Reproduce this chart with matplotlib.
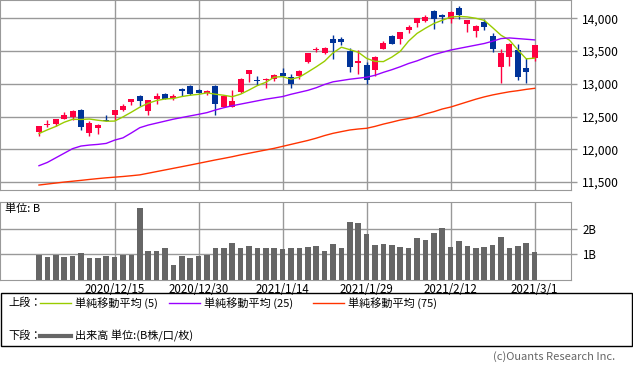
#!/usr/bin/env python3
"""Candlestick chart with moving averages and volume panel"""
import matplotlib
matplotlib.use("Agg")
import matplotlib.pyplot as plt
from matplotlib.lines import Line2D
from matplotlib.patches import Rectangle

plt.rcParams['font.family'] = ['Noto Sans CJK JP', 'DejaVu Sans']

dates = [
    "2020/12/2", "2020/12/3", "2020/12/4", "2020/12/7", "2020/12/8",
    "2020/12/9", "2020/12/10", "2020/12/11", "2020/12/14", "2020/12/15",
    "2020/12/16", "2020/12/17", "2020/12/18", "2020/12/21", "2020/12/22",
    "2020/12/23", "2020/12/24", "2020/12/28", "2020/12/29", "2020/12/30",
    "2020/12/31", "2021/1/4", "2021/1/5", "2021/1/6", "2021/1/7",
    "2021/1/8", "2021/1/11", "2021/1/12", "2021/1/13", "2021/1/14",
    "2021/1/15", "2021/1/19", "2021/1/20", "2021/1/21", "2021/1/22",
    "2021/1/25", "2021/1/26", "2021/1/27", "2021/1/28", "2021/1/29",
    "2021/2/1", "2021/2/2", "2021/2/3", "2021/2/4", "2021/2/5",
    "2021/2/8", "2021/2/9", "2021/2/10", "2021/2/11", "2021/2/12",
    "2021/2/16", "2021/2/17", "2021/2/18", "2021/2/19", "2021/2/22",
    "2021/2/23", "2021/2/24", "2021/2/25", "2021/2/26", "2021/3/1",
]
tick_dates = ["2020/12/15", "2020/12/30", "2021/1/14",
              "2021/1/29", "2021/2/12", "2021/3/1"]

opens = [12265, 12372, 12390, 12465, 12500, 12600, 12245, 12330, 12445, 12525,
         12605, 12715, 12812, 12590, 12763, 12845, 12779, 12916, 12966, 12905,
         12858, 12966, 12650, 12650, 12868, 13150, 13050, 13062, 13073, 13172,
         13099, 13119, 13330, 13518, 13475, 13684, 13690, 13506, 13322, 13287,
         13211, 13531, 13730, 13679, 13821, 13933, 13963, 14111, 14055, 13985,
         14153, 13913, 13806, 13944, 13730, 13261, 13405, 13516, 13237, 13400]
highs = [12356, 12445, 12464, 12575, 12600, 12615, 12425, 12380, 12530, 12600,
         12690, 12770, 12830, 12753, 12860, 12860, 12845, 12935, 12985, 12920,
         12905, 12981, 12830, 12910, 13090, 13215, 13120, 13090, 13150, 13245,
         13150, 13212, 13475, 13555, 13560, 13740, 13720, 13542, 13516, 13338,
         13430, 13660, 13750, 13791, 13890, 14000, 14045, 14127, 14070, 14110,
         14188, 13974, 13900, 13985, 13771, 13531, 13628, 13608, 13389, 13592]
lows = [12200, 12342, 12350, 12460, 12440, 12295, 12200, 12240, 12425, 12450,
        12585, 12680, 12660, 12520, 12695, 12763, 12753, 12814, 12830, 12855,
        12825, 12530, 12640, 12640, 12865, 13033, 12975, 12935, 13050, 13110,
        12940, 13075, 13310, 13480, 13450, 13380, 13590, 13185, 13150, 12990,
        13115, 13531, 13600, 13610, 13775, 13870, 13950, 13837, 13925, 13930,
        13995, 13796, 13719, 13825, 13490, 13008, 13272, 13058, 13017, 13348]
closes = [12349, 12382, 12462, 12530, 12585, 12335, 12400, 12372, 12437, 12598,
          12665, 12768, 12742, 12750, 12814, 12765, 12812, 12897, 12845, 12866,
          12892, 12692, 12818, 12738, 13080, 13210, 13044, 13072, 13134, 13120,
          12995, 13195, 13470, 13530, 13542, 13630, 13632, 13261, 13348, 13058,
          13405, 13628, 13608, 13791, 13872, 14000, 14025, 13989, 14025, 14100,
          14051, 13974, 13882, 13872, 13531, 13466, 13608, 13108, 13180, 13592]

ma5 = [12241, 12297, 12349, 12413, 12458, 12456, 12462, 12444, 12429, 12431,
       12495, 12567, 12643, 12703, 12745, 12768, 12776, 12805, 12826, 12839,
       12862, 12841, 12825, 12803, 12842, 12905, 12973, 13023, 13101, 13110,
       13070, 13102, 13179, 13259, 13345, 13472, 13558, 13521, 13482, 13388,
       13342, 13339, 13407, 13495, 13652, 13769, 13848, 13920, 13970, 14018,
       14029, 14021, 14000, 13969, 13857, 13741, 13667, 13518, 13381, 13392]
ma25 = [11750, 11800, 11870, 11940, 12010, 12050, 12065, 12075, 12090, 12140,
        12175, 12250, 12330, 12370, 12400, 12430, 12460, 12485, 12510, 12534,
        12560, 12600, 12635, 12665, 12690, 12715, 12740, 12765, 12785, 12805,
        12840, 12870, 12900, 12940, 12990, 13030, 13050, 13070, 13085, 13100,
        13130, 13175, 13215, 13260, 13310, 13350, 13400, 13445, 13480, 13515,
        13540, 13565, 13590, 13615, 13650, 13690, 13700, 13690, 13680, 13670]
ma75 = [11455, 11470, 11485, 11500, 11513, 11526, 11540, 11553, 11565, 11575,
        11585, 11597, 11610, 11635, 11660, 11685, 11710, 11735, 11760, 11786,
        11812, 11838, 11862, 11887, 11915, 11940, 11965, 11990, 12015, 12045,
        12075, 12105, 12135, 12170, 12210, 12244, 12270, 12295, 12310, 12321,
        12350, 12385, 12415, 12447, 12470, 12500, 12540, 12574, 12615, 12645,
        12685, 12725, 12765, 12800, 12830, 12855, 12878, 12895, 12915, 12931]

volume = [0.99, 0.92, 0.99, 0.92, 0.96, 1.07, 0.88, 0.88, 0.96, 0.92,
          0.99, 0.99, 2.84, 1.12, 1.12, 1.24, 0.57, 0.96, 0.88, 0.96,
          0.99, 1.27, 1.24, 1.47, 1.27, 1.35, 1.24, 1.27, 1.27, 1.20,
          1.27, 1.24, 1.31, 1.35, 1.12, 1.43, 1.27, 2.29, 2.22, 1.82,
          1.39, 1.43, 1.39, 1.31, 1.27, 1.63, 1.55, 1.86, 2.02, 1.31,
          1.51, 1.35, 1.24, 1.31, 1.39, 1.67, 1.24, 1.35, 1.47, 1.08]

W, H = 633, 373
UP = '#ff0040'
DOWN = '#003399'
GRID = '#999999'


def fx(px):
    return px / W


def fy(py):
    return 1 - py / H


fig = plt.figure(figsize=(6.33, 3.73), dpi=100)
idx = list(range(len(dates)))
tick_pos = [dates.index(d) for d in tick_dates]

# upper panel: candles + moving averages
ax = fig.add_axes([0, fy(190), fx(571), 190 / H])
colors = [UP if c >= o else DOWN for o, c in zip(opens, closes)]
ax.vlines(idx, lows, highs, colors=colors, linewidth=1, zorder=3)
bottoms = [min(o, c) for o, c in zip(opens, closes)]
heights = [max(abs(c - o), 10) for o, c in zip(opens, closes)]
ax.bar(idx, heights, bottom=bottoms, width=0.7, color=colors, zorder=4)
ax.plot(idx, ma5, color='#99cc00', lw=1, zorder=5)
ax.plot(idx, ma25, color='#9900ff', lw=1, zorder=5)
ax.plot(idx, ma75, color='#ff3300', lw=1, zorder=5)

ax.set_xlim(-4.64, 63.33)
ax.set_ylim(11379, 14279)
ax.set_yticks(range(11500, 14001, 500))
ax.set_yticklabels([f"{v:,}" for v in range(11500, 14001, 500)])
ax.yaxis.tick_right()
ax.set_xticks(tick_pos)
ax.set_xticklabels([])
ax.tick_params(axis='x', length=0)
ax.tick_params(axis='y', length=4, color=GRID, width=1, pad=4, labelsize=8.7)
ax.grid(True, color=GRID, lw=1, zorder=0)
for s in ax.spines.values():
    s.set_color(GRID)

# lower panel: volume
axv = fig.add_axes([0, fy(280), fx(571), (280 - 201.7) / H])
axv.bar(idx, volume, width=0.68, color='#666666', zorder=3)
axv.set_xlim(-4.64, 63.33)
axv.set_ylim(0, 3.07)
axv.set_yticks([1, 2])
axv.set_yticklabels(['1B', '2B'])
axv.yaxis.tick_right()
axv.set_xticks(tick_pos)
axv.set_xticklabels(tick_dates)
axv.tick_params(axis='x', length=0, pad=2, labelsize=8.3)
axv.tick_params(axis='y', length=4, color=GRID, width=1, pad=4, labelsize=8.3)
axv.grid(True, color=GRID, lw=1, zorder=0)
for s in axv.spines.values():
    s.set_color(GRID)
fig.text(fx(5), fy(209), "単位: B", fontsize=8, va='center')

# legend box
fig.add_artist(Rectangle((fx(0.5), fy(346)), fx(631.5), (346 - 293) / H,
                         transform=fig.transFigure, fill=False,
                         edgecolor='black', lw=1))
fig.text(fx(8), fy(303), "上段：", fontsize=8, va='center')
legend_items = [(40, '#99cc00', "単純移動平均 (5)"),
                (169, '#9900ff', "単純移動平均 (25)"),
                (313, '#ff3300', "単純移動平均 (75)")]
for x0, col, label in legend_items:
    fig.add_artist(Line2D([fx(x0), fx(x0 + 31)], [fy(303), fy(303)],
                          transform=fig.transFigure, color=col, lw=1))
    fig.text(fx(x0 + 35), fy(303), label, fontsize=8, va='center')
fig.text(fx(8), fy(336), "下段：", fontsize=8, va='center')
fig.add_artist(Line2D([fx(40), fx(71)], [fy(336), fy(336)],
                      transform=fig.transFigure, color='#666666', lw=3))
fig.text(fx(75), fy(336), "出来高 単位:(B株/口/枚)", fontsize=8, va='center')

fig.text(fx(615), fy(357), "(c)Ouants Research Inc.", fontsize=8,
         color='#666666', ha='right', va='center')

fig.savefig("out.png", dpi=100)
